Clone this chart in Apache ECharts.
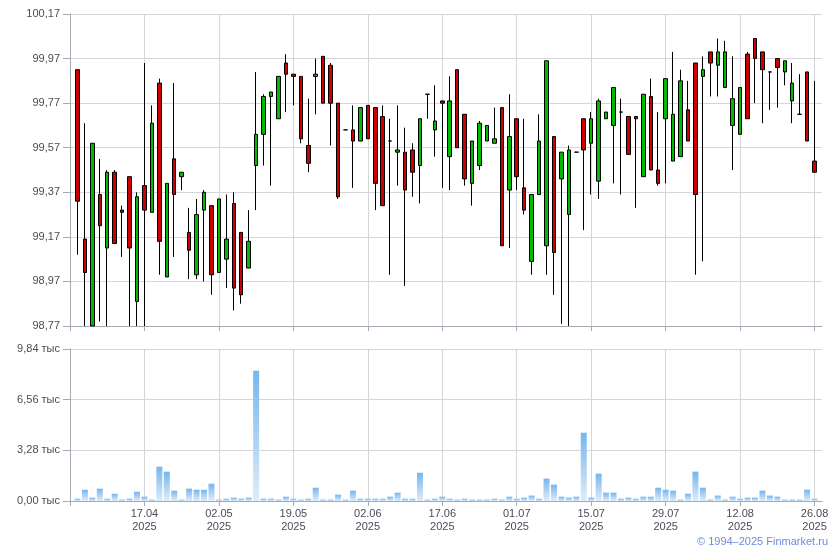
<!DOCTYPE html>
<html>
<head>
<meta charset="utf-8">
<script src="https://cdn.jsdelivr.net/npm/echarts@6/dist/echarts.min.js"></script>
<style>
html,body{margin:0;padding:0;background:#fff;}
#c{width:840px;height:550px;}
</style>
</head>
<body>
<div id="c"></div>
<script>
// Trading dates (DD.MM.YYYY)
const dates = [
'04.04.2025','07.04.2025','08.04.2025','09.04.2025','10.04.2025','11.04.2025','14.04.2025','15.04.2025','16.04.2025','17.04.2025',
'18.04.2025','21.04.2025','22.04.2025','23.04.2025','24.04.2025','25.04.2025','28.04.2025','29.04.2025','30.04.2025','02.05.2025',
'05.05.2025','06.05.2025','07.05.2025','08.05.2025','12.05.2025','13.05.2025','14.05.2025','15.05.2025','16.05.2025','19.05.2025',
'20.05.2025','21.05.2025','22.05.2025','23.05.2025','26.05.2025','27.05.2025','28.05.2025','29.05.2025','30.05.2025','02.06.2025',
'03.06.2025','04.06.2025','05.06.2025','06.06.2025','09.06.2025','10.06.2025','11.06.2025','13.06.2025','16.06.2025','17.06.2025',
'18.06.2025','19.06.2025','20.06.2025','23.06.2025','24.06.2025','25.06.2025','26.06.2025','27.06.2025','30.06.2025','01.07.2025',
'02.07.2025','03.07.2025','04.07.2025','07.07.2025','08.07.2025','09.07.2025','10.07.2025','11.07.2025','14.07.2025','15.07.2025',
'16.07.2025','17.07.2025','18.07.2025','21.07.2025','22.07.2025','23.07.2025','24.07.2025','25.07.2025','28.07.2025','29.07.2025',
'30.07.2025','31.07.2025','01.08.2025','04.08.2025','05.08.2025','06.08.2025','07.08.2025','08.08.2025','11.08.2025','12.08.2025',
'13.08.2025','14.08.2025','15.08.2025','18.08.2025','19.08.2025','20.08.2025','21.08.2025','22.08.2025','25.08.2025','26.08.2025'
];

const openP = [
99.92,99.16,98.77,99.36,99.12,99.46,99.29,99.44,98.88,99.40,
99.28,99.86,98.99,99.52,99.44,99.19,99.00,99.29,99.31,99.01,
99.07,99.32,99.19,99.03,99.49,99.63,99.80,99.70,99.95,99.90,
99.89,99.58,99.89,99.98,99.94,99.77,99.65,99.65,99.60,99.76,
99.75,99.71,99.60,99.55,99.55,99.56,99.49,99.81,99.65,99.78,
99.53,99.92,99.72,99.41,99.49,99.60,99.59,99.75,99.38,99.70,
99.39,99.06,99.36,99.13,99.62,99.43,99.27,99.55,99.70,99.59,
99.42,99.70,99.67,99.73,99.71,99.71,99.44,99.80,99.47,99.70,
99.51,99.53,99.74,99.95,99.89,100.00,99.94,99.84,99.67,99.63,
99.99,100.06,100.00,99.91,99.97,99.91,99.78,99.72,99.91,99.51
];
const closeP = [
99.33,99.01,99.59,99.22,99.46,99.14,99.28,99.12,99.35,99.29,
99.68,99.15,99.41,99.36,99.46,99.11,99.27,99.37,99.00,99.34,
99.16,98.94,98.91,99.15,99.63,99.80,99.82,99.89,99.90,99.89,
99.61,99.50,99.90,99.77,99.77,99.35,99.65,99.60,99.75,99.61,
99.41,99.31,99.60,99.56,99.38,99.46,99.70,99.81,99.69,99.77,
99.78,99.57,99.43,99.60,99.68,99.67,99.61,99.13,99.62,99.44,
99.29,99.36,99.60,99.96,99.10,99.55,99.56,99.55,99.56,99.70,
99.78,99.73,99.84,99.73,99.54,99.70,99.81,99.47,99.41,99.88,
99.72,99.87,99.60,99.36,99.92,99.95,100.00,100.00,99.79,99.84,
99.70,99.97,99.92,99.91,99.93,99.96,99.86,99.72,99.60,99.46
];
const lowP = [
99.09,98.77,98.77,98.79,98.77,99.14,99.08,98.77,98.77,98.77,
99.28,99.00,98.99,99.08,99.38,98.98,98.98,98.97,98.91,99.01,
98.94,98.84,98.87,99.03,99.29,99.49,99.40,99.70,99.73,99.76,
99.59,99.46,99.72,99.77,99.58,99.34,99.65,99.39,99.60,99.61,
99.29,99.31,99.00,99.40,98.95,99.35,99.32,99.70,99.53,99.39,
99.38,99.57,99.40,99.31,99.47,99.60,99.59,99.13,99.12,99.38,
99.27,99.00,99.36,99.00,98.91,98.78,98.77,99.55,99.20,99.36,
99.34,99.70,99.41,99.36,99.54,99.30,99.44,99.47,99.40,99.41,
99.51,99.53,99.60,99.00,99.06,99.80,99.80,99.84,99.47,99.63,
99.70,99.77,99.68,99.74,99.75,99.85,99.68,99.72,99.60,99.46
];
const highP = [
99.92,99.68,99.59,99.52,99.47,99.47,99.31,99.44,99.37,99.95,
99.76,99.88,99.41,99.86,99.46,99.30,99.34,99.38,99.31,99.34,
99.36,99.37,99.19,99.29,99.91,99.81,99.82,99.89,99.99,99.90,
99.89,99.79,99.97,99.98,99.95,99.77,99.65,99.76,99.75,99.76,
99.75,99.76,99.70,99.76,99.66,99.59,99.70,99.81,99.85,99.78,
99.89,99.92,99.72,99.60,99.69,99.67,99.75,99.75,99.81,99.70,
99.70,99.36,99.72,99.96,99.62,99.55,99.58,99.55,99.70,99.73,
99.79,99.73,99.84,99.79,99.71,99.71,99.81,99.88,99.73,99.88,
100.00,99.92,99.87,99.95,99.98,100.00,100.06,100.05,99.98,99.84,
100.00,100.06,100.00,99.91,99.97,99.96,99.95,99.90,99.91,99.87
];

// Volume, thousands
const volume = [
0.15,0.73,0.22,0.80,0.15,0.47,0.09,0.15,0.60,0.28,
0.09,2.22,1.90,0.67,0.09,0.80,0.73,0.73,1.12,0.09,
0.15,0.22,0.15,0.22,8.44,0.15,0.15,0.09,0.28,0.15,
0.09,0.15,0.86,0.09,0.09,0.41,0.09,0.67,0.15,0.15,
0.15,0.15,0.28,0.54,0.15,0.15,1.83,0.09,0.15,0.28,
0.15,0.09,0.15,0.09,0.09,0.09,0.15,0.09,0.28,0.15,
0.22,0.35,0.15,1.45,1.06,0.28,0.22,0.28,4.42,0.22,
1.77,0.54,0.54,0.15,0.22,0.15,0.28,0.28,0.86,0.73,
0.67,0.09,0.47,1.90,0.86,0.09,0.35,0.09,0.28,0.15,
0.22,0.22,0.67,0.35,0.28,0.09,0.09,0.09,0.73,0.15
];

const priceMin = 98.77, priceMax = 100.17, priceStep = 0.2;
const volMin = 0, volMax = 9.84, volStep = 3.28;
const volUnit = 'тыс';
const copyright = '© 1994–2025 Finmarket.ru';

// one empty slot on each side of the date axis
const cats = [''].concat(dates).concat(['']);
const EMPTY = ['-', '-', '-', '-'];
const candle = [EMPTY].concat(dates.map((d, i) => [openP[i], closeP[i], lowP[i], highP[i]])).concat([EMPTY]);
const vols = ['-'].concat(volume).concat(['-']);

const FONT = '"Liberation Sans", Arial, sans-serif';
const tickFn = (idx) => idx % 10 === 0 && idx <= dates.length;
const axisCol = '#a6aab2';
const gridCol = '#d3d7db';
const labCol = '#4c4c56';

const chart = echarts.init(document.getElementById('c'), null, {renderer: 'canvas'});
chart.setOption({
  animation: false,
  backgroundColor: '#ffffff',
  textStyle: {fontFamily: FONT},
  grid: [
    {left: 70, right: 18, top: 14, height: 312},
    {left: 70, right: 18, top: 349, height: 152}
  ],
  xAxis: [
    {
      type: 'category', gridIndex: 0, data: cats, boundaryGap: false,
      axisLine: {lineStyle: {color: axisCol, width: 1}},
      axisTick: {show: true, interval: tickFn, length: 5, lineStyle: {color: axisCol}},
      axisLabel: {show: false},
      splitLine: {show: true, interval: tickFn, lineStyle: {color: gridCol, width: 1}}
    },
    {
      type: 'category', gridIndex: 1, data: cats, boundaryGap: false,
      axisLine: {lineStyle: {color: axisCol, width: 1}},
      axisTick: {show: true, interval: tickFn, length: 5, lineStyle: {color: axisCol}},
      axisLabel: {
        show: true, interval: tickFn, color: labCol, fontSize: 11, fontFamily: FONT,
        lineHeight: 13, margin: 6,
        formatter: (v) => v ? v.slice(0, 5) + '\n' + v.slice(6) : ''
      },
      splitLine: {show: true, interval: tickFn, lineStyle: {color: gridCol, width: 1}}
    }
  ],
  yAxis: [
    {
      type: 'value', gridIndex: 0, min: priceMin, max: priceMax, interval: priceStep,
      axisLine: {show: true, lineStyle: {color: axisCol}},
      axisTick: {show: true, length: 7, lineStyle: {color: axisCol}},
      axisLabel: {color: labCol, fontSize: 11, fontFamily: FONT, margin: 10,
        formatter: (v) => v.toFixed(2).replace('.', ',')},
      splitLine: {show: true, lineStyle: {color: gridCol, width: 1}}
    },
    {
      type: 'value', gridIndex: 1, min: volMin, max: volMax, interval: volStep,
      axisLine: {show: true, lineStyle: {color: axisCol}},
      axisTick: {show: true, length: 7, lineStyle: {color: axisCol}},
      axisLabel: {color: labCol, fontSize: 11, fontFamily: FONT, margin: 10,
        formatter: (v) => v.toFixed(2).replace('.', ',') + ' ' + volUnit},
      splitLine: {show: true, lineStyle: {color: gridCol, width: 1}}
    }
  ],
  series: [
    {
      type: 'candlestick', xAxisIndex: 0, yAxisIndex: 0,
      data: candle, barWidth: 4, clip: true,
      itemStyle: {
        color: '#00bb00', color0: '#cc0000',
        borderColor: '#000000', borderColor0: '#000000', borderWidth: 1
      }
    },
    {
      type: 'bar', xAxisIndex: 1, yAxisIndex: 1,
      data: vols, barWidth: 6,
      itemStyle: {
        color: new echarts.graphic.LinearGradient(0, 0, 0, 1, [
          {offset: 0, color: '#76b6ef'},
          {offset: 1, color: '#deecf9'}
        ])
      }
    }
  ],
  graphic: [
    {type: 'text', right: 12, top: 536,
      style: {text: copyright, fill: '#6f8ae0', font: '11px ' + FONT}}
  ]
});
</script>
</body>
</html>
